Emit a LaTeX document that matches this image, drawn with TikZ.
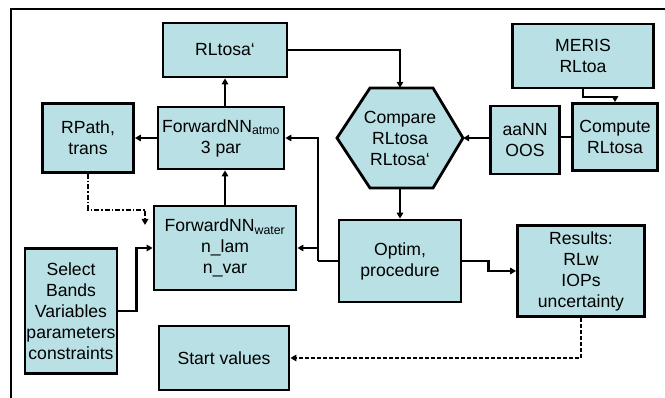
\documentclass[tikz,border=0pt]{standalone}
\usepackage{fontspec}
\setmainfont{Liberation Sans}
\usetikzlibrary{arrows.meta,calc}
\definecolor{boxfill}{RGB}{185,224,228}
\begin{document}
\begin{tikzpicture}[x=1pt,y=-1pt,
  box/.style={draw, line width=2.8pt, fill=boxfill, align=center,
    font=\fontsize{17.6}{21}\selectfont, inner sep=0pt},
  conn/.style={line width=2.2pt, -{Triangle[length=6pt,width=6.5pt]}},
  plain/.style={line width=2.2pt},
  hexline/.style={line width=2.8pt, fill=boxfill, line join=miter},
  dashline/.style={dash pattern=on 4pt off 2pt},
  dashdotline/.style={dash pattern=on 5pt off 2pt on 1.5pt off 2pt}
]
\useasboundingbox (0,0) rectangle (665,398);
% frame
\draw[line width=2.2pt] (11,398) -- (11,9) -- (665,9);

% nodes
\node[box, minimum width=124, minimum height=54] (rlp) at (225,50) {RLtosa‘};
\node[box, minimum width=126, minimum height=62] (atmo) at (221,138) {ForwardNN\textsubscript{atmo}\\3 par};
\node[box, minimum width=91, minimum height=69] (rpath) at (88,138) {RPath,\\trans};
\node[box, minimum width=142, minimum height=84] (water) at (225,248) {ForwardNN\textsubscript{water}\\n\_lam\\n\_var};
\node[box, minimum width=92, minimum height=125] (select) at (71,311) {Select\\Bands\\Variables\\parameters\\constraints};
\node[box, minimum width=130, minimum height=64] (start) at (224,358) {Start values};
\draw[hexline] (337,138) -- (370,88) -- (433,88) -- (463,138) -- (433,188) -- (370,188) -- cycle;
\node[align=center, font=\fontsize{17.6}{21}\selectfont, inner sep=0pt, minimum width=126, minimum height=100] (hex) at (400,138) {Compare\\RLtosa\\RLtosa‘};
\node[box, minimum width=69, minimum height=68] (aann) at (525,140) {aaNN\\OOS};
\node[box, minimum width=85, minimum height=67] (compute) at (615,137) {Compute\\RLtosa};
\node[box, minimum width=141, minimum height=64] (meris) at (583,56) {MERIS\\RLtoa};
\node[box, minimum width=122, minimum height=82] (optim) at (400,261) {Optim,\\procedure};
\node[box, minimum width=127, minimum height=91] (results) at (581,271) {Results:\\RLw\\IOPs\\uncertainty};

% connectors
\draw[conn] (atmo.north -| rlp.south) -- (rlp.south);
\draw[conn] (atmo.west) -- (rpath.east);
\draw[conn] (water.north) -- (atmo.south -| water.north);
\draw[conn] (rlp.east) -| (hex.north);
\draw[conn] (hex.south) -- (optim.north);
\draw[conn] (aann.west |- hex.east) -- (hex.east);
\draw[plain] (aann.east |- compute.west) -- (compute.west);
\draw[conn] (meris.south) -- ++(0,8) -| (compute.north);
\coordinate (j) at ($(optim.west)+(-20,0)$);
\draw[plain] (optim.west) -- (j);
\draw[conn] (j) |- (atmo.east);
\draw[conn] (j |- water.east) -- (water.east);
\draw[conn] (optim.east) -- ++(26,0) |- (results.west);
\draw[conn, dashline] (results.south) |- (start.east);
\coordinate (d) at (145,225);
\draw[conn, dashdotline] (rpath.south) -- ++(0,36) -| (d);
\draw[conn] (select.east) -- ++(18,0) |- (water.west);
\end{tikzpicture}
\end{document}
